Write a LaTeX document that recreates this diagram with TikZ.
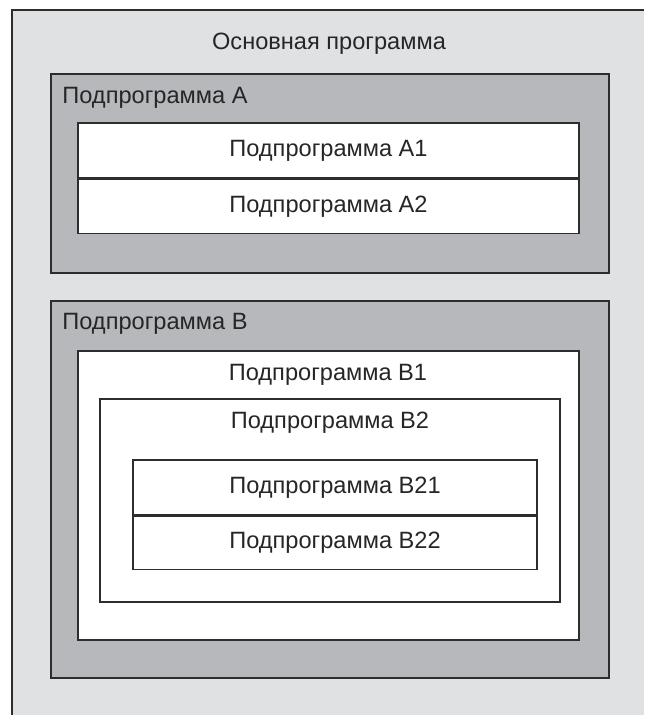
\documentclass[tikz,border=0pt]{standalone}
\usepackage{fontspec}
\setmainfont{Liberation Sans}
\usetikzlibrary{positioning}
\definecolor{mainfill}{RGB}{224,225,227}
\definecolor{subfill}{RGB}{183,184,187}
\definecolor{edge}{RGB}{45,45,45}
\tikzset{
  box/.style = {
    shape = rectangle,
    draw = edge,
    line width = 0.75pt,
    inner sep = 0pt,
    minimum width = #1,
  },
  graybox/.style = {
    box = 279pt,
    fill = subfill,
  },
  whitebox/.style = {
    box = #1,
    fill = white,
  },
  lbl/.style = {
    text = black!85,
    font = \fontsize{11.8}{14}\selectfont,
    inner sep = 0pt,
  }
}

\begin{document}
\begin{tikzpicture}[x = 0.5pt, y = -0.5pt]
            \useasboundingbox (0,0) rectangle (644,715);
            \fill[white](0,0) rectangle (644,715);
            \fill[mainfill](12,10) rectangle (644,715);
            \draw[edge, line width = 0.75pt](12,715) -- (12,10) -- (644,10);
            \node[lbl](main) at (329,44){Основная программа};
            % Подпрограмма А
            \node[graybox, minimum height = 99.5pt](A) at (330,173.5){};
            \node[lbl, anchor = west](Alab) at (62,98){Подпрограмма А};
            \node[whitebox = 250.5pt, minimum height = 27.5pt](A1) at (328.5,150.5){};
            \node[whitebox = 250.5pt, minimum height = 27pt, below = 0pt of A1](A2){};
            \node[lbl] at (A1){Подпрограмма А1};
            \node[lbl] at (A2){Подпрограмма А2};
            % Подпрограмма В
            \node[graybox, minimum height = 188.5pt](B) at (330,489.5){};
            \node[lbl, anchor = west](Blab) at (62,324){Подпрограмма В};
            \node[whitebox = 250.5pt, minimum height = 144.5pt](B1) at (328.5,495.5){};
            \node[lbl](B1lab) at (328,375){Подпрограмма В1};
            \node[whitebox = 230pt, minimum height = 101.5pt](B2) at (330,500.5){};
            \node[lbl](B2lab) at (330,423){Подпрограмма В2};
            \node[whitebox = 202pt, minimum height = 27.5pt](B21) at (335,487.5){};
            \node[whitebox = 202pt, minimum height = 26.5pt, below = 0pt of B21](B22){};
            \node[lbl] at (B21){Подпрограмма В21};
            \node[lbl] at (B22){Подпрограмма В22};
        \end{tikzpicture}
\end{document}
